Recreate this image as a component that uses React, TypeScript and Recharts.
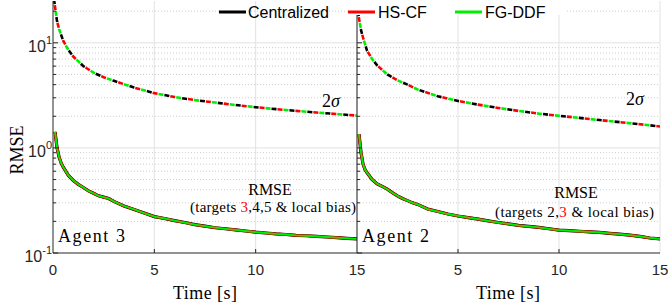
import React from 'react';
import { LineChart, Line, XAxis, YAxis, CartesianGrid } from 'recharts';

// ---- data ----
const TIME_SIGMA = [0.05, 0.1, 0.2, 0.3, 0.5, 0.75, 1, 1.5, 2, 2.5, 3, 4, 5, 6, 7, 8, 9, 10, 11, 12, 13, 14, 15];
const SIGMA_AGENT3 = [26, 22, 16, 13.5, 10.5, 8.6, 7.4, 6.0, 5.2, 4.7, 4.35, 3.75, 3.32, 3.05, 2.85, 2.7, 2.56, 2.44, 2.34, 2.25, 2.17, 2.1, 2.03];
const SIGMA_AGENT2 = [20, 17, 13.2, 11.2, 8.4, 7.0, 6.1, 5.0, 4.4, 4.0, 3.6, 3.1, 2.8, 2.58, 2.4, 2.25, 2.12, 2.02, 1.93, 1.84, 1.76, 1.68, 1.6];

const TIME_RMSE = [0.1, 0.2, 0.3, 0.4, 0.5, 0.75, 1, 1.25, 1.5, 1.75, 2, 2.25, 2.5, 2.75, 3, 3.5, 4, 4.5, 5, 5.5, 6, 6.5, 7, 7.5, 8, 8.5, 9, 9.5, 10, 10.5, 11, 11.5, 12, 12.5, 13, 13.5, 14, 14.5, 15];
const RMSE_AGENT3 = [1.42, 1.0, 0.82, 0.72, 0.66, 0.55, 0.49, 0.45, 0.42, 0.39, 0.37, 0.35, 0.34, 0.33, 0.31, 0.28, 0.26, 0.24, 0.222, 0.213, 0.203, 0.195, 0.186, 0.18, 0.174, 0.17, 0.166, 0.162, 0.158, 0.155, 0.152, 0.15, 0.147, 0.146, 0.144, 0.142, 0.14, 0.138, 0.136];
const RMSE_AGENT2 = [1.35, 0.9, 0.7, 0.62, 0.58, 0.5, 0.455, 0.43, 0.405, 0.375, 0.35, 0.33, 0.315, 0.3, 0.29, 0.262, 0.248, 0.235, 0.225, 0.217, 0.21, 0.202, 0.195, 0.189, 0.183, 0.179, 0.175, 0.17, 0.165, 0.163, 0.161, 0.159, 0.157, 0.154, 0.151, 0.148, 0.144, 0.139, 0.136];

const X_TICKS = [0, 5, 10, 15];
const X_LABELS_LEFT = [0, 5, 10, 15];
const X_LABELS_RIGHT = [5, 10, 15];
const Y_MAJOR = [0.1, 1, 10];
const Y_MINOR = [0.2, 0.3, 0.4, 0.5, 0.6, 0.7, 0.8, 0.9, 2, 3, 4, 5, 6, 7, 8, 9, 20];
const Y_MAJOR_LABELS: Record<string, string> = { '0.1': '-1', '1': '0', '10': '1' };

const SERIES = [
  { name: 'Centralized', color: '#000000', rmseWidth: 3.2, offset: 0 },
  { name: 'HS-CF', color: '#ff0000', rmseWidth: 2.6, offset: -6 },
  { name: 'FG-DDF', color: '#00ee00', rmseWidth: 1.8, offset: -12 },
];

const toPoints = (t: number[], v: number[]) => t.map((x, i) => ({ t: x, v: v[i] }));

const AXIS = '#262626';
const SANS = '"Liberation Sans", Arial, Helvetica, sans-serif';
const SERIF = '"Liberation Serif", "Times New Roman", serif';

function YTick(props: any) {
  const { x, y, payload, showLabels } = props;
  const val = payload.value;
  const major = Y_MAJOR.includes(val);
  const len = major ? 5 : 3;
  const exp = Y_MAJOR_LABELS[String(val)];
  return (
    <g>
      <line x1={x} y1={y} x2={x + len} y2={y} stroke={AXIS} strokeWidth={1} />
      {showLabels && major && (
        <text x={x - 1} y={y + 9} textAnchor="end" fontFamily={SANS} fontSize={16} fill={AXIS}>
          10
          <tspan fontSize={11} dy={-8}>{exp}</tspan>
        </text>
      )}
    </g>
  );
}

function XTick(props: any) {
  const { x, y, payload, labels } = props;
  const val = payload.value;
  return (
    <g>
      {val > 0 && val < 15 && <line x1={x} y1={y} x2={x} y2={y - 4} stroke={AXIS} strokeWidth={1} />}
      {labels.includes(val) && (
        <text x={x} y={y + 22} textAnchor="middle" fontFamily={SANS} fontSize={15} fill={AXIS}>
          {val}
        </text>
      )}
    </g>
  );
}

function Panel(props: {
  sigma: number[];
  rmse: number[];
  showYLabels: boolean;
  xLabels: number[];
  width: number;
  yWidth: number;
  marginRight: number;
}) {
  const { sigma, rmse, showYLabels, xLabels, width, yWidth, marginRight } = props;
  const sigmaData = toPoints(TIME_SIGMA, sigma);
  const rmseData = toPoints(TIME_RMSE, rmse);
  return (
    <LineChart width={width} height={304} margin={{ top: 1, right: marginRight, bottom: 0, left: 0 }}>
      <CartesianGrid horizontalValues={Y_MINOR} vertical={false} stroke="#cdcdcd" strokeDasharray="1 2" />
      <CartesianGrid horizontalValues={[1, 10]} verticalValues={[5, 10, 15]} stroke="#e2e2e2" />
      <XAxis
        type="number"
        dataKey="t"
        domain={[0, 15]}
        ticks={X_TICKS}
        interval={0}
        height={51}
        tickSize={0}
        tickMargin={0}
        tickLine={false}
        stroke={AXIS}
        allowDataOverflow
        tick={(p: any) => <XTick {...p} labels={xLabels} />}
      />
      <YAxis
        type="number"
        scale="log"
        domain={[0.1, 25]}
        ticks={[...Y_MAJOR, ...Y_MINOR]}
        interval={0}
        width={yWidth}
        tickSize={0}
        tickMargin={0}
        tickLine={false}
        stroke={AXIS}
        allowDataOverflow
        tick={(p: any) => <YTick {...p} showLabels={showYLabels} />}
      />
      {SERIES.map((s) => (
        <Line
          key={'sig' + s.name}
          data={sigmaData}
          dataKey="v"
          type="linear"
          stroke={s.color}
          strokeWidth={2.6}
          strokeDasharray="5 13"
          strokeDashoffset={s.offset}
          dot={false}
          activeDot={false}
          isAnimationActive={false}
        />
      ))}
      {SERIES.map((s) => (
        <Line
          key={'rmse' + s.name}
          data={rmseData}
          dataKey="v"
          type="linear"
          stroke={s.color}
          strokeWidth={s.rmseWidth}
          dot={false}
          activeDot={false}
          isAnimationActive={false}
        />
      ))}
    </LineChart>
  );
}

export default function App() {
  return (
    <div style={{ position: 'absolute', left: 0, top: 0, width: 668, height: 304, background: '#fff', overflow: 'hidden' }}>
      <div style={{ position: 'absolute', left: 0, top: 0 }}>
        <Panel sigma={SIGMA_AGENT3} rmse={RMSE_AGENT3} showYLabels xLabels={X_LABELS_LEFT} width={372} yWidth={53} marginRight={15} />
      </div>
      <div style={{ position: 'absolute', left: 347, top: 0 }}>
        <Panel sigma={SIGMA_AGENT2} rmse={RMSE_AGENT2} showYLabels={false} xLabels={X_LABELS_RIGHT} width={321} yWidth={10} marginRight={8} />
      </div>
      <svg width={668} height={304} style={{ position: 'absolute', left: 0, top: 0, pointerEvents: 'none' }}>
        <rect x={352} y={0} width={213} height={15} fill="#ffffff" />
        {/* legend */}
        <line x1={219} y1={12} x2={246} y2={12} stroke="#000" strokeWidth={3} />
        <text x={248} y={18} fontFamily={SANS} fontSize={16} fill="#000">Centralized</text>
        <line x1={348} y1={12} x2={375} y2={12} stroke="#ff0000" strokeWidth={3} />
        <text x={378} y={18} fontFamily={SANS} fontSize={16} fill="#000">HS-CF</text>
        <line x1={455} y1={12} x2={482} y2={12} stroke="#00ee00" strokeWidth={3} />
        <text x={485} y={18} fontFamily={SANS} fontSize={16} fill="#000">FG-DDF</text>

        {/* y label */}
        <text x={0} y={0} transform="translate(23,150) rotate(-90)" textAnchor="middle" fontFamily={SERIF} fontSize={18} fill="#000">RMSE</text>

        {/* x labels */}
        <text x={205} y={299} textAnchor="middle" fontFamily={SERIF} fontSize={18} fill="#000" textLength={64} lengthAdjust="spacing">Time [s]</text>
        <text x={508} y={299} textAnchor="middle" fontFamily={SERIF} fontSize={18} fill="#000" textLength={64} lengthAdjust="spacing">Time [s]</text>

        {/* 2 sigma */}
        <text x={322} y={107} fontFamily={SERIF} fontSize={18} fill="#000">2<tspan fontStyle="italic">σ</tspan></text>
        <text x={626} y={105} fontFamily={SERIF} fontSize={18} fill="#000">2<tspan fontStyle="italic">σ</tspan></text>

        {/* RMSE annotations */}
        <text x={270} y={195} textAnchor="middle" fontFamily={SERIF} fontSize={16} fill="#000">RMSE</text>
        <text x={190} y={212} fontFamily={SERIF} fontSize={15} fill="#000" textLength={166} lengthAdjust="spacing">(targets <tspan fill="#ff0000">3</tspan>,4,5 &amp; local bias)</text>
        <text x={576} y={198} textAnchor="middle" fontFamily={SERIF} fontSize={16} fill="#000">RMSE</text>
        <text x={495} y={217} fontFamily={SERIF} fontSize={15} fill="#000" textLength={159} lengthAdjust="spacing">(targets 2,<tspan fill="#ff0000">3</tspan> &amp; local bias)</text>

        {/* agents */}
        <text x={58} y={242} fontFamily={SERIF} fontSize={18} fill="#000" textLength={67} lengthAdjust="spacing">Agent 3</text>
        <text x={362} y={242} fontFamily={SERIF} fontSize={18} fill="#000" textLength={67} lengthAdjust="spacing">Agent 2</text>
      </svg>
    </div>
  );
}
